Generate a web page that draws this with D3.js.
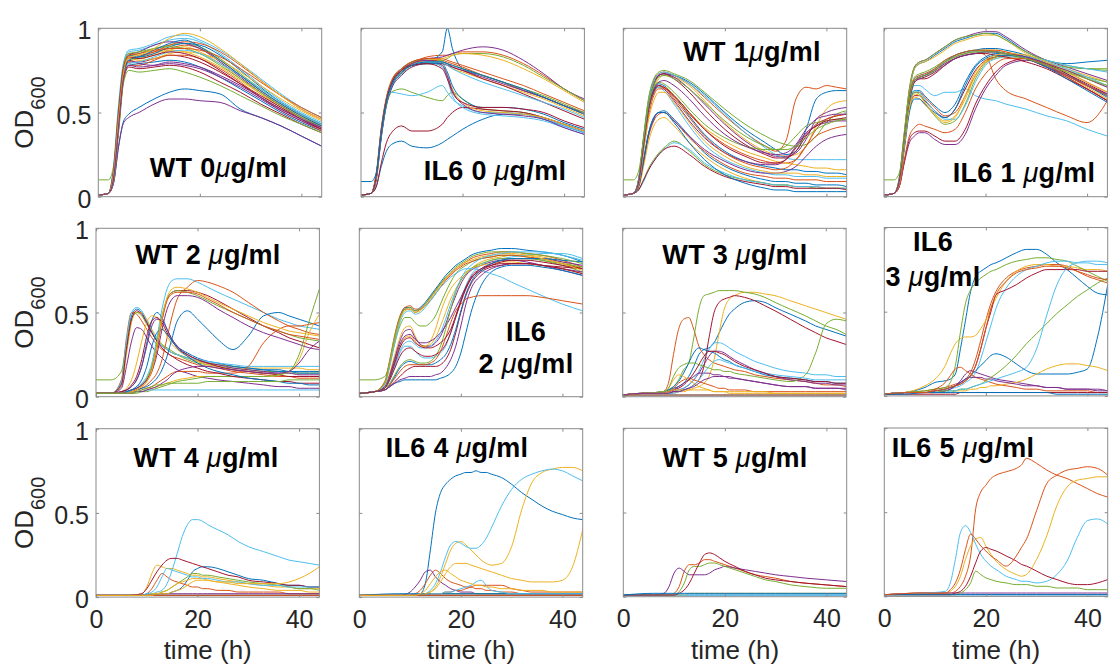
<!DOCTYPE html>
<html>
<head>
<meta charset="utf-8">
<script src="https://cdn.jsdelivr.net/npm/d3@7"></script>
<style>
  body { margin: 0; background: #fff; }
  svg text { font-family: "Liberation Sans", Arial, Helvetica, sans-serif; }
</style>
</head>
<body>
<svg id="chart" width="1109" height="669"></svg>
<script>
// ---- axes ----
const hourRange = [0, 44];
const odTicks = [0, 0.5, 1];
const hourTicks = [0, 20, 40];
const lineColors = ["#0072BD", "#D95319", "#EDB120", "#7E2F8E", "#77AC30", "#4DBEEE", "#A2142F"];

const panelTitles = [
  ["WT 0μg/ml"], ["IL6 0 μg/ml"], ["WT 1μg/ml"], ["IL6 1 μg/ml"],
  ["WT 2 μg/ml"], ["IL6", "2 μg/ml"], ["WT 3 μg/ml"], ["IL6", "3 μg/ml"],
  ["WT 4 μg/ml"], ["IL6 4 μg/ml"], ["WT 5 μg/ml"], ["IL6 5 μg/ml"]
];
const yLabelMain = "OD";
const yLabelSub = "600";
const xLabel = "time (h)";

// ---- WT, 0 ug/ml ----
const wt0Hours = [0,2,3,4,5,6,8,11,14,17,20,24,28,32,36,40,44];
const wt0OD = [
  [.01,.02,.08,.30,.45,.49,.53,.58,.62,.64,.63,.61,.52,.47,.42,.36,.30],
  [.01,.02,.15,.50,.78,.85,.84,.86,.88,.90,.88,.81,.72,.63,.55,.48,.42],
  [.01,.02,.12,.45,.74,.82,.82,.84,.87,.89,.86,.79,.70,.61,.53,.47,.41],
  [.01,.02,.08,.30,.44,.47,.50,.55,.58,.58,.57,.56,.51,.47,.42,.36,.30],
  [.10,.10,.18,.48,.75,.83,.85,.88,.90,.91,.89,.82,.73,.64,.56,.49,.43],
  [.01,.02,.18,.55,.80,.86,.87,.90,.93,.94,.92,.85,.76,.66,.57,.50,.44],
  [.01,.02,.10,.40,.70,.77,.76,.77,.78,.77,.74,.68,.62,.55,.49,.43,.38],
  [.01,.02,.14,.48,.72,.78,.79,.80,.81,.80,.77,.71,.64,.57,.50,.44,.39],
  [.01,.02,.16,.52,.76,.82,.83,.86,.90,.92,.91,.86,.78,.69,.60,.52,.46],
  [.01,.02,.11,.42,.71,.80,.82,.85,.87,.86,.83,.77,.69,.61,.54,.48,.43],
  [.01,.02,.13,.47,.75,.84,.86,.90,.92,.91,.88,.80,.71,.62,.54,.47,.41],
  [.01,.02,.09,.38,.68,.75,.74,.75,.76,.74,.71,.66,.60,.54,.48,.43,.38],
  [.01,.02,.17,.53,.79,.87,.88,.91,.95,.96,.93,.87,.79,.70,.61,.53,.47],
  [.01,.02,.12,.44,.73,.80,.80,.82,.84,.83,.80,.74,.67,.60,.53,.46,.40],
  [.01,.02,.15,.49,.77,.84,.83,.85,.89,.91,.90,.84,.75,.65,.56,.49,.43],
  [.01,.02,.10,.41,.70,.78,.78,.81,.84,.84,.82,.76,.68,.59,.51,.45,.39],
  [.01,.02,.14,.47,.75,.82,.81,.82,.85,.86,.85,.81,.74,.66,.58,.51,.45],
  [.01,.02,.13,.46,.74,.81,.79,.78,.79,.78,.76,.71,.65,.58,.51,.45,.40],
  [.01,.02,.16,.51,.78,.85,.86,.88,.89,.88,.85,.78,.70,.62,.54,.47,.42],
  [.01,.02,.11,.43,.72,.79,.80,.83,.86,.87,.85,.79,.72,.64,.56,.49,.43],
  [.01,.02,.15,.50,.77,.83,.82,.84,.86,.85,.82,.75,.67,.59,.52,.46,.40],
  [.01,.02,.12,.45,.73,.81,.83,.87,.91,.93,.89,.81,.72,.63,.55,.48,.42],
  [.01,.02,.14,.48,.76,.84,.85,.87,.88,.88,.87,.83,.76,.68,.60,.53,.47],
  [.01,.02,.13,.46,.74,.83,.84,.88,.94,.97,.95,.88,.79,.69,.60,.52,.46],
  [.01,.02,.11,.42,.71,.78,.77,.78,.80,.79,.77,.72,.66,.59,.52,.46,.41]
];

// ---- IL6, 0 ug/ml ----
const il6_0Hours = [0,2,3,4,5,6,8,10,13,16,17,18,20,24,28,32,36,40,44];
const il6_0OD = [
  [.01,.02,.06,.18,.27,.31,.33,.30,.29,.32,.34,.36,.40,.46,.49,.49,.46,.42,.38],
  [.01,.02,.13,.40,.58,.68,.75,.79,.83,.84,.84,.85,.86,.86,.84,.79,.72,.64,.57],
  [.01,.02,.11,.37,.55,.65,.73,.77,.79,.79,.78,.76,.74,.70,.66,.62,.58,.53,.48],
  [.01,.02,.12,.39,.57,.67,.75,.80,.82,.83,.84,.85,.87,.89,.87,.81,.73,.64,.58],
  [.01,.02,.10,.36,.54,.62,.64,.62,.59,.57,.60,.62,.58,.52,.51,.50,.47,.43,.39],
  [.01,.02,.12,.38,.56,.62,.61,.60,.62,.66,.62,.58,.54,.50,.50,.49,.46,.42,.38],
  [.01,.02,.06,.20,.32,.38,.42,.39,.39,.43,.47,.50,.53,.52,.51,.50,.47,.43,.39],
  [.01,.02,.12,.39,.58,.68,.76,.78,.80,.86,1.0,.88,.76,.72,.68,.63,.59,.54,.49],
  [.01,.02,.14,.41,.59,.69,.76,.80,.82,.81,.80,.79,.77,.72,.68,.63,.59,.54,.49],
  [.01,.02,.11,.37,.56,.66,.74,.78,.80,.78,.72,.64,.56,.51,.50,.49,.47,.43,.39],
  [.01,.02,.10,.35,.54,.64,.72,.77,.79,.79,.78,.77,.75,.71,.67,.63,.59,.54,.50],
  [.01,.02,.13,.40,.58,.68,.76,.80,.81,.81,.82,.84,.85,.85,.83,.78,.71,.64,.57],
  [.01,.02,.12,.39,.57,.67,.75,.79,.80,.77,.70,.60,.53,.49,.48,.47,.45,.41,.37],
  [.01,.02,.12,.38,.57,.67,.75,.79,.81,.80,.79,.77,.75,.70,.66,.61,.56,.51,.46],
  [.01,.02,.11,.36,.55,.65,.73,.78,.79,.79,.74,.66,.58,.53,.53,.52,.49,.44,.40],
  [.01,.02,.13,.40,.58,.68,.76,.80,.82,.82,.81,.80,.78,.74,.70,.66,.61,.56,.51],
  [.01,.02,.12,.38,.57,.67,.75,.79,.81,.82,.83,.84,.85,.84,.81,.76,.70,.63,.56],
  [.01,.02,.12,.39,.57,.67,.75,.79,.81,.78,.72,.63,.55,.50,.49,.48,.46,.41,.37],
  [.01,.02,.11,.37,.55,.66,.74,.78,.80,.80,.79,.78,.76,.72,.68,.64,.60,.55,.50],
  [.01,.02,.12,.38,.56,.66,.74,.78,.80,.80,.78,.76,.73,.68,.64,.60,.56,.52,.47],
  [.01,.02,.12,.38,.57,.67,.75,.78,.79,.76,.70,.62,.56,.53,.53,.52,.50,.45,.41],
  [.09,.09,.14,.38,.56,.66,.74,.78,.80,.80,.79,.78,.76,.72,.68,.64,.59,.54,.49]
];

// ---- WT, 1 ug/ml ----
const wt1Hours = [0,2,3,4,5,6,7,8,10,13,16,20,24,28,30,32,34,36,38,40,42,44];
const wt1OD = [
  [.01,.02,.09,.33,.56,.68,.72,.73,.72,.68,.61,.50,.40,.32,.28,.25,.27,.40,.58,.62,.63,.63],
  [.01,.02,.10,.35,.58,.69,.73,.74,.72,.67,.59,.48,.38,.30,.27,.33,.58,.65,.64,.66,.65,.64],
  [.01,.02,.08,.30,.52,.64,.70,.72,.71,.66,.57,.44,.34,.27,.25,.24,.25,.30,.42,.52,.56,.57],
  [.01,.02,.09,.33,.56,.67,.72,.73,.71,.64,.55,.43,.33,.26,.24,.24,.26,.34,.46,.50,.52,.53],
  [.01,.02,.10,.36,.59,.70,.74,.75,.73,.69,.62,.52,.43,.36,.33,.31,.30,.31,.36,.44,.49,.51],
  [.01,.02,.09,.34,.57,.68,.73,.74,.72,.67,.60,.49,.38,.29,.25,.23,.22,.22,.22,.22,.22,.22],
  [.01,.02,.08,.31,.54,.66,.72,.73,.70,.62,.52,.40,.31,.25,.23,.23,.27,.36,.43,.46,.48,.49],
  [.01,.02,.10,.34,.55,.64,.67,.66,.60,.48,.37,.27,.21,.18,.17,.16,.16,.15,.15,.14,.14,.13],
  [.01,.02,.09,.32,.53,.63,.66,.65,.59,.49,.40,.31,.25,.21,.20,.20,.22,.30,.40,.46,.48,.49],
  [.01,.02,.08,.30,.51,.61,.65,.65,.60,.50,.41,.33,.27,.23,.21,.20,.19,.18,.17,.17,.16,.16],
  [.01,.02,.09,.33,.54,.63,.66,.64,.57,.45,.35,.26,.21,.19,.19,.22,.30,.38,.42,.44,.45,.45],
  [.01,.02,.10,.35,.56,.65,.68,.67,.62,.52,.43,.35,.30,.28,.28,.30,.36,.42,.44,.45,.46,.46],
  [.01,.02,.09,.32,.52,.62,.65,.63,.55,.42,.31,.22,.17,.14,.13,.13,.12,.12,.12,.11,.11,.11],
  [.01,.02,.08,.31,.52,.62,.66,.65,.60,.50,.40,.30,.24,.20,.20,.22,.29,.37,.42,.45,.46,.47],
  [.01,.02,.06,.22,.38,.47,.50,.51,.46,.36,.26,.18,.13,.10,.09,.09,.08,.08,.07,.07,.07,.06],
  [.01,.02,.06,.20,.36,.45,.49,.50,.45,.35,.27,.19,.14,.12,.11,.11,.10,.10,.10,.09,.09,.09],
  [.01,.02,.05,.18,.33,.42,.46,.47,.42,.32,.24,.16,.11,.08,.07,.07,.06,.06,.06,.05,.05,.05],
  [.01,.02,.06,.21,.37,.46,.50,.50,.45,.36,.28,.21,.16,.14,.14,.15,.18,.24,.30,.34,.36,.37],
  [.01,.02,.04,.10,.17,.22,.26,.29,.33,.27,.19,.13,.10,.08,.07,.07,.06,.06,.05,.05,.05,.05],
  [.01,.02,.04,.09,.16,.21,.25,.28,.32,.28,.20,.14,.10,.08,.07,.07,.06,.06,.06,.05,.05,.05],
  [.01,.02,.04,.10,.16,.21,.25,.28,.30,.25,.18,.12,.09,.07,.06,.06,.05,.05,.05,.05,.05,.04],
  [.01,.02,.06,.22,.38,.47,.50,.50,.44,.32,.22,.13,.08,.05,.04,.04,.03,.03,.03,.03,.03,.03],
  [.01,.02,.07,.28,.48,.60,.64,.64,.58,.47,.36,.26,.20,.17,.16,.17,.22,.30,.36,.39,.41,.42],
  [.01,.02,.07,.27,.46,.57,.62,.62,.56,.44,.33,.24,.18,.15,.14,.14,.14,.13,.13,.12,.12,.12],
  [.01,.02,.08,.30,.52,.63,.68,.69,.66,.58,.48,.37,.30,.26,.25,.26,.31,.40,.46,.48,.49,.49],
  [.10,.10,.15,.34,.55,.66,.71,.72,.70,.64,.56,.45,.36,.30,.28,.28,.30,.35,.40,.43,.45,.46]
];

// ---- IL6, 1 ug/ml ----
const il6_1Hours = [0,2,3,4,5,6,7,8,10,12,14,16,18,20,22,24,28,32,36,40,44];
const il6_1OD = [
  [.01,.02,.10,.36,.62,.76,.79,.80,.84,.88,.92,.94,.96,.97,.97,.94,.86,.81,.79,.80,.81],
  [.01,.02,.09,.34,.58,.69,.71,.72,.76,.80,.83,.85,.86,.84,.70,.63,.58,.53,.48,.44,.57],
  [.01,.02,.09,.33,.57,.68,.70,.71,.74,.79,.83,.85,.86,.87,.87,.86,.83,.78,.72,.65,.58],
  [.01,.02,.11,.38,.64,.77,.80,.81,.85,.89,.93,.95,.97,.98,.98,.95,.87,.81,.77,.73,.69],
  [.01,.02,.10,.35,.60,.71,.73,.74,.77,.81,.84,.86,.87,.87,.86,.85,.82,.79,.77,.76,.76],
  [.01,.02,.09,.33,.56,.66,.66,.64,.60,.62,.62,.64,.60,.58,.57,.55,.52,.48,.45,.40,.36],
  [.01,.02,.08,.30,.52,.60,.60,.57,.51,.47,.52,.64,.75,.81,.83,.84,.82,.77,.71,.64,.57],
  [.01,.02,.10,.34,.58,.69,.71,.72,.75,.80,.84,.86,.87,.88,.88,.87,.84,.79,.73,.66,.59],
  [.01,.02,.08,.31,.54,.62,.62,.59,.53,.48,.50,.60,.72,.80,.83,.84,.83,.79,.74,.68,.62],
  [.01,.02,.10,.37,.63,.76,.79,.80,.83,.87,.91,.93,.95,.96,.96,.93,.85,.80,.76,.72,.68],
  [.01,.02,.06,.20,.32,.36,.38,.38,.34,.31,.31,.37,.52,.64,.72,.78,.81,.78,.72,.66,.60],
  [.01,.02,.08,.31,.54,.62,.61,.56,.48,.43,.45,.55,.70,.79,.83,.84,.83,.79,.75,.71,.68],
  [.01,.02,.10,.35,.59,.70,.72,.73,.76,.80,.83,.85,.86,.86,.86,.85,.83,.80,.76,.71,.66],
  [.01,.02,.06,.21,.34,.38,.39,.39,.36,.33,.33,.40,.55,.66,.74,.79,.82,.79,.73,.67,.61],
  [.01,.02,.09,.32,.55,.63,.63,.60,.54,.50,.55,.68,.78,.83,.85,.85,.83,.78,.72,.66,.60],
  [.01,.02,.10,.35,.60,.70,.72,.73,.76,.81,.84,.86,.87,.87,.87,.86,.82,.77,.71,.64,.57],
  [.01,.02,.08,.30,.52,.59,.58,.55,.49,.45,.48,.58,.72,.80,.82,.83,.82,.79,.75,.70,.65],
  [.01,.02,.09,.34,.58,.69,.71,.72,.75,.79,.82,.84,.85,.86,.86,.85,.82,.77,.72,.66,.61],
  [.01,.02,.11,.38,.64,.77,.80,.81,.85,.89,.93,.95,.96,.97,.96,.93,.86,.81,.78,.76,.75],
  [.01,.02,.09,.33,.56,.63,.62,.58,.51,.46,.46,.54,.68,.78,.82,.83,.83,.81,.78,.76,.74],
  [.01,.02,.09,.34,.57,.68,.70,.70,.73,.78,.82,.84,.85,.85,.84,.83,.80,.76,.70,.64,.57],
  [.01,.02,.07,.28,.50,.58,.58,.55,.50,.47,.52,.66,.77,.82,.84,.84,.82,.77,.70,.63,.56],
  [.01,.02,.06,.22,.36,.41,.43,.42,.40,.38,.40,.50,.64,.73,.79,.82,.82,.78,.72,.66,.60],
  [.01,.02,.08,.30,.53,.61,.60,.56,.49,.44,.47,.60,.74,.81,.84,.85,.84,.80,.74,.68,.62],
  [.01,.02,.09,.33,.57,.68,.70,.71,.74,.78,.82,.84,.85,.86,.86,.85,.83,.79,.75,.70,.65],
  [.10,.10,.14,.34,.58,.69,.71,.72,.75,.80,.83,.85,.86,.86,.86,.85,.82,.78,.74,.70,.66]
];

// ---- WT, 2 ug/ml ----
const wt2Hours = [0,3,5,6,7,8,9,10,11,12,13,14,15,16,18,20,22,24,27,30,33,36,38,40,42,44];
const wt2OD = [
  [.02,.02,.08,.30,.48,.52,.50,.44,.38,.33,.30,.28,.26,.25,.23,.21,.20,.19,.18,.17,.16,.16,.15,.15,.15,.15],
  [.02,.02,.10,.35,.50,.49,.45,.40,.35,.31,.28,.26,.24,.23,.21,.19,.18,.17,.15,.14,.13,.12,.12,.11,.11,.11],
  [.02,.02,.06,.25,.44,.50,.50,.46,.40,.35,.31,.28,.26,.25,.23,.21,.20,.19,.18,.17,.17,.17,.17,.17,.16,.16],
  [.02,.02,.05,.18,.33,.41,.40,.35,.30,.26,.23,.20,.18,.16,.14,.12,.11,.10,.09,.08,.07,.06,.06,.05,.05,.05],
  [.10,.10,.15,.32,.46,.50,.48,.43,.38,.34,.31,.29,.27,.25,.22,.20,.19,.18,.17,.16,.15,.15,.14,.14,.14,.14],
  [.02,.02,.02,.03,.04,.06,.08,.12,.20,.35,.52,.64,.69,.70,.70,.68,.65,.62,.58,.54,.50,.46,.44,.42,.41,.40],
  [.02,.02,.02,.03,.04,.05,.07,.10,.17,.30,.46,.58,.62,.63,.63,.62,.60,.57,.52,.47,.42,.38,.35,.33,.31,.29],
  [.02,.02,.03,.04,.06,.10,.18,.32,.45,.50,.47,.40,.34,.30,.26,.23,.21,.20,.18,.17,.16,.15,.15,.14,.14,.14],
  [.02,.02,.02,.03,.03,.04,.05,.07,.10,.14,.22,.35,.48,.58,.65,.69,.68,.66,.62,.56,.50,.45,.42,.40,.38,.37],
  [.02,.02,.03,.05,.10,.20,.33,.44,.48,.47,.42,.36,.31,.28,.24,.21,.19,.18,.16,.15,.14,.13,.12,.12,.12,.12],
  [.02,.02,.03,.04,.06,.10,.18,.30,.42,.46,.45,.40,.34,.30,.25,.22,.20,.19,.17,.16,.15,.14,.14,.13,.13,.13],
  [.02,.02,.02,.03,.04,.05,.07,.11,.18,.32,.48,.58,.62,.63,.62,.60,.57,.54,.50,.46,.42,.39,.37,.35,.34,.33],
  [.02,.02,.09,.33,.50,.53,.51,.45,.39,.34,.30,.28,.26,.25,.23,.22,.21,.20,.19,.18,.18,.18,.18,.18,.18,.18],
  [.02,.02,.03,.04,.07,.12,.22,.36,.45,.47,.44,.38,.33,.29,.25,.22,.20,.18,.16,.15,.14,.13,.12,.12,.12,.12],
  [.02,.02,.02,.02,.03,.04,.05,.06,.08,.11,.16,.24,.35,.45,.51,.46,.40,.34,.28,.36,.48,.50,.48,.46,.44,.42],
  [.02,.02,.02,.02,.03,.03,.04,.05,.06,.08,.10,.12,.14,.15,.15,.15,.14,.14,.14,.18,.32,.40,.42,.42,.43,.44],
  [.02,.02,.02,.02,.02,.03,.03,.04,.05,.06,.07,.08,.09,.10,.11,.12,.12,.12,.12,.12,.12,.13,.15,.22,.38,.49],
  [.02,.02,.02,.03,.04,.05,.07,.10,.15,.25,.40,.52,.58,.60,.60,.59,.56,.52,.47,.42,.38,.35,.33,.31,.29,.28],
  [.02,.02,.02,.02,.02,.02,.03,.03,.04,.05,.06,.07,.08,.09,.10,.11,.12,.12,.12,.12,.12,.13,.15,.25,.45,.64],
  [.02,.02,.02,.03,.03,.03,.03,.04,.04,.04,.04,.04,.04,.04,.04,.04,.04,.04,.04,.04,.04,.04,.04,.04,.04,.04],
  [.02,.02,.07,.28,.46,.51,.49,.44,.38,.33,.29,.26,.24,.22,.19,.17,.15,.14,.12,.11,.10,.09,.09,.08,.08,.08],
  [.02,.02,.02,.03,.04,.06,.10,.18,.30,.38,.40,.37,.33,.29,.24,.20,.17,.15,.13,.11,.10,.09,.08,.08,.07,.07],
  [.02,.02,.02,.02,.03,.04,.06,.09,.15,.28,.45,.57,.61,.62,.62,.61,.58,.55,.50,.46,.42,.39,.37,.36,.35,.34],
  [.02,.02,.02,.02,.03,.04,.06,.09,.16,.30,.47,.59,.64,.65,.64,.62,.59,.56,.52,.48,.44,.41,.39,.38,.37,.36],
  [.02,.02,.02,.02,.02,.03,.03,.04,.05,.06,.08,.10,.13,.15,.17,.18,.18,.17,.16,.15,.14,.14,.15,.20,.28,.33],
  [.02,.02,.02,.02,.02,.03,.04,.05,.06,.07,.07,.08,.08,.08,.08,.08,.09,.09,.09,.09,.09,.09,.10,.10,.10,.10]
];

// ---- IL6, 2 ug/ml ----
const il6_2Hours = [0,3,5,6,7,8,9,10,11,12,13,14,15,16,17,18,19,20,21,22,24,26,28,30,33,36,40,44];
const il6_2OD = [
  [.02,.03,.08,.20,.35,.47,.53,.53,.51,.53,.56,.60,.64,.68,.72,.75,.78,.80,.82,.84,.86,.87,.88,.88,.87,.86,.84,.80],
  [.02,.03,.08,.19,.34,.46,.52,.52,.50,.52,.55,.59,.63,.67,.70,.73,.76,.78,.80,.82,.84,.85,.86,.86,.85,.84,.81,.77],
  [.02,.03,.06,.14,.25,.35,.41,.42,.36,.31,.30,.31,.35,.42,.50,.58,.64,.69,.73,.76,.80,.82,.83,.84,.84,.83,.80,.76],
  [.02,.03,.06,.13,.23,.33,.39,.40,.35,.31,.30,.30,.32,.36,.43,.52,.60,.67,.72,.75,.78,.80,.81,.81,.80,.78,.75,.72],
  [.10,.10,.12,.20,.32,.42,.47,.47,.44,.42,.42,.44,.48,.55,.62,.68,.73,.76,.78,.80,.82,.83,.84,.84,.83,.81,.78,.74],
  [.02,.03,.05,.10,.18,.26,.30,.30,.27,.24,.23,.23,.24,.26,.30,.38,.48,.58,.66,.72,.78,.81,.82,.83,.84,.85,.85,.82],
  [.02,.03,.04,.06,.09,.12,.15,.17,.18,.18,.18,.18,.18,.19,.22,.28,.38,.50,.60,.67,.74,.77,.78,.79,.79,.78,.77,.76],
  [.02,.03,.04,.06,.08,.09,.10,.10,.10,.10,.10,.10,.10,.11,.12,.14,.18,.26,.38,.50,.66,.74,.77,.78,.78,.77,.75,.72],
  [.02,.03,.09,.22,.37,.48,.53,.54,.52,.52,.54,.57,.61,.65,.69,.72,.75,.77,.79,.80,.82,.83,.84,.84,.83,.82,.79,.76],
  [.02,.03,.05,.12,.21,.30,.35,.36,.33,.30,.30,.33,.40,.50,.58,.64,.68,.71,.74,.76,.78,.79,.80,.80,.79,.78,.76,.73],
  [.02,.03,.05,.12,.22,.31,.36,.37,.34,.32,.32,.33,.35,.38,.42,.47,.53,.59,.65,.70,.76,.79,.81,.82,.82,.82,.80,.78],
  [.02,.03,.04,.08,.13,.18,.21,.22,.21,.20,.20,.21,.24,.30,.40,.52,.62,.69,.73,.76,.79,.81,.82,.82,.82,.81,.79,.77],
  [.02,.03,.07,.18,.32,.44,.50,.51,.49,.50,.53,.57,.61,.65,.68,.71,.73,.75,.76,.76,.75,.73,.71,.68,.64,.60,.55,.51],
  [.02,.03,.05,.10,.17,.24,.28,.29,.27,.25,.24,.24,.25,.27,.31,.38,.47,.56,.64,.70,.75,.78,.80,.81,.81,.80,.78,.76],
  [.02,.03,.04,.07,.12,.17,.20,.21,.20,.19,.19,.19,.20,.22,.25,.31,.40,.51,.61,.68,.75,.79,.81,.82,.82,.82,.81,.80],
  [.02,.03,.04,.07,.11,.15,.18,.19,.19,.19,.19,.20,.22,.27,.35,.44,.51,.55,.58,.59,.60,.60,.60,.60,.60,.59,.57,.55],
  [.02,.03,.08,.20,.35,.46,.51,.52,.50,.51,.54,.58,.62,.66,.70,.73,.76,.78,.80,.81,.83,.84,.85,.85,.84,.82,.79,.75],
  [.02,.03,.04,.06,.08,.10,.11,.12,.12,.12,.12,.12,.13,.14,.17,.22,.30,.42,.55,.64,.72,.76,.78,.79,.79,.78,.76,.74],
  [.02,.03,.08,.21,.36,.47,.52,.53,.51,.52,.55,.59,.63,.67,.71,.74,.77,.79,.81,.83,.85,.86,.86,.86,.85,.84,.82,.79],
  [.02,.03,.05,.11,.19,.27,.32,.33,.31,.29,.29,.30,.33,.38,.46,.55,.63,.70,.75,.78,.82,.84,.85,.86,.86,.86,.84,.81],
  [.02,.03,.05,.11,.20,.29,.34,.35,.32,.30,.29,.29,.30,.32,.35,.40,.48,.57,.65,.71,.76,.78,.79,.79,.79,.78,.76,.73]
];

// ---- WT, 3 ug/ml ----
const wt3Hours = [0,4,8,9,10,11,12,13,14,15,16,17,18,19,20,21,22,24,26,28,30,33,36,38,40,42,44];
const wt3OD = [
  [.01,.02,.03,.04,.05,.06,.08,.12,.18,.25,.28,.29,.32,.38,.44,.49,.52,.56,.57,.56,.53,.49,.45,.42,.40,.38,.36],
  [.01,.02,.03,.08,.25,.40,.46,.47,.40,.30,.25,.22,.20,.19,.18,.17,.16,.15,.13,.12,.11,.10,.09,.08,.07,.07,.06],
  [.01,.02,.02,.02,.02,.03,.03,.04,.05,.06,.08,.12,.22,.38,.52,.58,.60,.62,.62,.61,.60,.57,.54,.52,.50,.48,.46],
  [.01,.02,.02,.02,.03,.04,.05,.07,.10,.14,.19,.24,.27,.27,.26,.24,.22,.19,.16,.14,.12,.10,.09,.08,.08,.07,.07],
  [.01,.02,.03,.04,.06,.10,.16,.20,.35,.52,.60,.61,.62,.63,.63,.63,.63,.62,.61,.59,.56,.52,.48,.45,.42,.40,.37],
  [.01,.02,.02,.02,.03,.04,.05,.07,.10,.15,.22,.28,.32,.32,.31,.29,.27,.24,.21,.19,.17,.15,.14,.13,.13,.12,.12],
  [.01,.02,.02,.02,.03,.03,.04,.05,.07,.10,.18,.35,.50,.56,.58,.59,.60,.59,.57,.54,.51,.46,.41,.38,.35,.33,.31],
  [.01,.02,.03,.04,.06,.09,.14,.20,.26,.29,.28,.27,.26,.24,.22,.21,.19,.17,.15,.13,.12,.11,.10,.09,.09,.08,.08],
  [.01,.02,.02,.03,.05,.08,.10,.11,.10,.09,.08,.07,.06,.05,.05,.04,.04,.04,.03,.03,.03,.03,.03,.03,.03,.03,.03],
  [.01,.02,.03,.05,.10,.13,.12,.10,.08,.06,.05,.04,.03,.03,.03,.02,.02,.02,.02,.02,.02,.02,.02,.02,.02,.02,.02],
  [.01,.02,.02,.03,.04,.06,.08,.10,.12,.14,.14,.14,.13,.13,.12,.12,.11,.10,.09,.08,.07,.06,.06,.05,.05,.05,.04],
  [.01,.02,.03,.05,.12,.17,.19,.20,.20,.19,.18,.17,.16,.16,.15,.15,.14,.13,.12,.11,.10,.09,.13,.26,.43,.46,.45],
  [.01,.02,.02,.02,.02,.03,.04,.05,.07,.10,.14,.18,.21,.22,.21,.20,.19,.17,.15,.14,.13,.12,.11,.10,.10,.10,.10],
  [.01,.02,.02,.03,.04,.05,.07,.10,.14,.19,.24,.27,.27,.26,.25,.23,.21,.18,.16,.14,.12,.11,.10,.09,.09,.08,.08],
  [.01,.01,.01,.01,.01,.01,.01,.01,.01,.01,.01,.01,.01,.01,.01,.01,.01,.01,.01,.01,.01,.01,.01,.01,.01,.01,.01],
  [.01,.01,.01,.01,.01,.01,.01,.01,.01,.01,.01,.01,.01,.01,.01,.01,.01,.01,.01,.01,.01,.01,.01,.01,.01,.01,.01],
  [.01,.02,.02,.03,.04,.04,.04,.04,.04,.04,.04,.04,.03,.03,.03,.03,.03,.03,.03,.03,.02,.02,.02,.02,.02,.02,.02],
  [.01,.02,.02,.02,.03,.03,.04,.05,.06,.08,.10,.11,.12,.12,.12,.11,.11,.10,.09,.08,.07,.06,.06,.05,.05,.05,.05]
];

// ---- IL6, 3 ug/ml ----
const il6_3Hours = [0,4,8,10,12,13,14,15,16,17,18,19,20,21,22,24,26,28,30,32,34,36,38,40,42,44];
const il6_3OD = [
  [.01,.02,.05,.08,.09,.10,.13,.28,.45,.62,.71,.74,.76,.78,.79,.82,.85,.87,.87,.84,.79,.75,.70,.65,.61,.60],
  [.01,.02,.03,.04,.05,.06,.07,.08,.10,.14,.22,.33,.45,.55,.62,.70,.74,.76,.77,.78,.78,.77,.74,.71,.69,.67],
  [.01,.02,.06,.10,.18,.25,.31,.34,.35,.35,.36,.40,.45,.52,.58,.68,.74,.77,.78,.78,.77,.77,.76,.75,.75,.74],
  [.01,.02,.02,.02,.03,.04,.06,.09,.13,.15,.14,.13,.12,.11,.10,.09,.08,.07,.06,.05,.05,.04,.04,.04,.03,.03],
  [.01,.02,.03,.04,.05,.08,.18,.38,.55,.63,.67,.70,.72,.74,.75,.78,.80,.81,.82,.82,.81,.80,.77,.74,.71,.68],
  [.01,.02,.02,.03,.03,.04,.05,.06,.08,.10,.14,.22,.32,.42,.52,.64,.71,.75,.77,.79,.80,.80,.79,.79,.78,.78],
  [.01,.02,.02,.03,.04,.05,.06,.07,.09,.12,.18,.28,.40,.50,.60,.63,.66,.70,.73,.75,.75,.75,.75,.74,.74,.74],
  [.01,.02,.02,.03,.04,.05,.06,.08,.10,.12,.15,.18,.21,.24,.25,.23,.19,.15,.13,.13,.13,.13,.14,.16,.35,.66],
  [.01,.02,.02,.04,.08,.12,.16,.17,.15,.13,.11,.10,.09,.08,.07,.06,.05,.04,.04,.03,.03,.03,.03,.03,.02,.02],
  [.01,.02,.02,.02,.02,.02,.03,.03,.03,.04,.04,.05,.05,.06,.06,.07,.08,.10,.13,.16,.18,.19,.19,.18,.17,.15],
  [.01,.02,.02,.02,.03,.04,.06,.08,.10,.11,.11,.11,.10,.10,.09,.08,.07,.06,.06,.05,.05,.04,.04,.04,.04,.03],
  [.01,.02,.02,.02,.03,.03,.03,.04,.04,.05,.06,.07,.09,.11,.13,.18,.24,.31,.37,.43,.49,.54,.59,.63,.67,.70],
  [.01,.02,.02,.02,.02,.03,.03,.04,.04,.05,.06,.07,.08,.09,.10,.12,.14,.17,.28,.48,.66,.76,.79,.80,.80,.79],
  [.01,.01,.01,.01,.01,.01,.01,.02,.02,.02,.02,.02,.02,.02,.02,.02,.02,.02,.02,.02,.02,.02,.02,.02,.02,.02],
  [.01,.01,.02,.02,.02,.02,.02,.02,.02,.02,.02,.02,.02,.02,.02,.02,.02,.02,.02,.02,.01,.01,.01,.01,.01,.01],
  [.01,.02,.02,.03,.04,.05,.06,.07,.09,.12,.18,.28,.40,.52,.60,.68,.73,.75,.76,.77,.77,.76,.74,.72,.70,.69]
];

// ---- WT, 4 ug/ml ----
const wt4Hours = [0,6,9,10,11,12,13,14,15,16,17,18,19,20,21,22,24,26,28,30,33,36,38,40,42,44];
const wt4OD = [
  [.01,.01,.01,.01,.01,.02,.02,.02,.03,.04,.06,.10,.15,.17,.18,.18,.17,.15,.13,.11,.10,.08,.07,.07,.06,.06],
  [.01,.01,.01,.02,.05,.10,.14,.12,.10,.09,.08,.07,.06,.06,.05,.05,.04,.04,.03,.03,.03,.03,.02,.02,.02,.02],
  [.01,.01,.02,.06,.14,.19,.18,.17,.17,.16,.15,.14,.13,.13,.12,.12,.11,.10,.09,.08,.07,.06,.06,.05,.05,.05],
  [.01,.01,.01,.01,.01,.02,.02,.02,.02,.02,.02,.02,.02,.02,.02,.02,.02,.02,.02,.02,.02,.02,.02,.02,.02,.02],
  [.01,.01,.01,.01,.02,.02,.03,.04,.06,.08,.10,.12,.14,.14,.13,.13,.12,.11,.10,.09,.08,.07,.06,.05,.05,.04],
  [.01,.01,.01,.02,.02,.03,.04,.08,.16,.26,.36,.43,.46,.46,.45,.43,.40,.37,.33,.30,.27,.24,.22,.21,.20,.19],
  [.01,.01,.02,.05,.10,.15,.19,.22,.23,.23,.22,.21,.20,.19,.18,.17,.15,.13,.12,.10,.09,.08,.07,.07,.06,.06],
  [.01,.01,.01,.01,.01,.01,.01,.01,.01,.01,.01,.01,.01,.01,.01,.01,.01,.01,.01,.01,.01,.01,.01,.01,.01,.01],
  [.01,.01,.01,.01,.01,.01,.01,.01,.01,.01,.01,.01,.01,.01,.01,.01,.01,.01,.01,.01,.01,.01,.01,.01,.01,.01],
  [.01,.01,.01,.01,.02,.02,.03,.04,.06,.08,.09,.10,.11,.11,.11,.10,.09,.08,.07,.06,.05,.04,.04,.04,.03,.03],
  [.01,.01,.01,.01,.01,.01,.01,.01,.01,.01,.01,.01,.01,.01,.01,.01,.01,.01,.01,.01,.01,.01,.01,.01,.01,.01],
  [.01,.01,.01,.01,.01,.01,.01,.01,.01,.01,.01,.01,.01,.01,.01,.01,.01,.01,.01,.01,.01,.01,.01,.01,.01,.01],
  [.01,.01,.01,.02,.03,.06,.12,.17,.16,.15,.14,.13,.12,.12,.11,.11,.10,.09,.09,.08,.07,.07,.06,.06,.06,.06],
  [.01,.01,.01,.01,.01,.01,.01,.01,.01,.01,.01,.01,.01,.01,.01,.01,.01,.01,.01,.01,.01,.01,.01,.01,.01,.01],
  [.01,.01,.01,.01,.01,.01,.01,.01,.01,.01,.01,.01,.01,.01,.01,.01,.01,.01,.01,.01,.01,.01,.01,.01,.01,.01],
  [.01,.01,.01,.01,.01,.01,.01,.01,.01,.01,.01,.01,.01,.01,.01,.01,.01,.01,.01,.01,.01,.01,.01,.01,.01,.01],
  [.01,.01,.01,.01,.01,.02,.02,.02,.03,.04,.05,.07,.09,.10,.10,.10,.09,.09,.08,.08,.08,.08,.09,.11,.14,.18]
];

// ---- IL6, 4 ug/ml ----
const il6_4Hours = [0,8,10,11,12,13,14,15,16,17,18,19,20,21,22,23,24,25,26,28,30,32,34,36,38,40,42,44];
const il6_4OD = [
  [.01,.01,.01,.01,.02,.08,.28,.50,.62,.67,.70,.72,.73,.74,.74,.75,.74,.74,.73,.71,.67,.62,.58,.54,.51,.49,.47,.46],
  [.01,.01,.01,.02,.04,.08,.13,.16,.14,.11,.09,.08,.07,.06,.06,.05,.05,.04,.04,.03,.03,.02,.02,.02,.02,.02,.02,.02],
  [.01,.01,.01,.01,.01,.02,.03,.06,.12,.20,.28,.32,.33,.31,.28,.25,.22,.20,.19,.20,.30,.52,.68,.74,.76,.77,.77,.75],
  [.01,.01,.03,.06,.10,.15,.16,.12,.09,.07,.05,.04,.03,.03,.03,.02,.02,.02,.02,.02,.02,.02,.02,.02,.02,.02,.02,.02],
  [.01,.01,.01,.01,.01,.01,.02,.02,.02,.02,.02,.02,.02,.02,.02,.02,.02,.02,.02,.02,.02,.02,.02,.02,.02,.02,.02,.02],
  [.01,.01,.01,.01,.01,.02,.04,.08,.15,.24,.31,.33,.32,.30,.29,.29,.31,.35,.41,.54,.64,.70,.73,.75,.76,.75,.72,.69],
  [.01,.01,.01,.01,.01,.01,.01,.01,.01,.01,.01,.01,.01,.01,.01,.01,.01,.01,.01,.01,.01,.01,.01,.01,.01,.01,.01,.01],
  [.01,.02,.02,.02,.02,.02,.02,.02,.02,.02,.02,.02,.02,.02,.02,.02,.02,.02,.02,.02,.02,.02,.02,.02,.02,.02,.02,.02],
  [.01,.01,.01,.01,.01,.01,.02,.02,.02,.03,.03,.04,.04,.05,.06,.07,.07,.07,.07,.07,.05,.04,.03,.03,.03,.03,.03,.03],
  [.01,.01,.01,.01,.01,.02,.03,.05,.09,.14,.18,.20,.20,.20,.19,.18,.17,.16,.15,.13,.11,.10,.09,.09,.09,.10,.18,.40],
  [.01,.01,.01,.01,.01,.01,.01,.01,.01,.01,.01,.01,.01,.01,.01,.01,.01,.01,.01,.01,.01,.01,.01,.01,.01,.01,.01,.01],
  [.01,.01,.01,.01,.01,.01,.01,.01,.01,.01,.01,.01,.01,.01,.01,.01,.01,.01,.01,.01,.01,.01,.01,.01,.01,.01,.01,.01],
  [.01,.01,.01,.01,.01,.01,.02,.02,.02,.03,.03,.04,.05,.06,.07,.09,.10,.07,.04,.03,.02,.02,.02,.02,.02,.02,.02,.02],
  [.01,.01,.01,.01,.01,.01,.01,.01,.01,.01,.01,.01,.01,.01,.01,.01,.01,.01,.01,.01,.01,.01,.01,.01,.01,.01,.01,.01],
  [.01,.01,.01,.01,.01,.01,.01,.01,.01,.01,.01,.01,.01,.01,.01,.01,.01,.01,.01,.01,.01,.01,.01,.01,.01,.01,.01,.01],
  [.01,.01,.01,.01,.01,.01,.01,.01,.01,.01,.01,.01,.01,.01,.01,.01,.01,.01,.01,.01,.01,.01,.01,.01,.01,.01,.01,.01],
  [.01,.01,.01,.01,.02,.04,.08,.12,.15,.16,.14,.12,.10,.09,.08,.07,.07,.06,.06,.05,.05,.04,.04,.04,.03,.03,.03,.03]
];

// ---- WT, 5 ug/ml ----
const wt5Hours = [0,6,8,9,10,11,12,13,14,15,16,17,18,19,20,22,24,26,28,30,33,36,40,44];
const wt5OD = [
  [.01,.01,.01,.01,.01,.01,.01,.01,.01,.01,.01,.01,.01,.01,.01,.01,.01,.01,.01,.01,.01,.01,.01,.01],
  [.01,.01,.01,.01,.02,.06,.15,.19,.19,.20,.22,.22,.21,.20,.19,.17,.15,.13,.12,.11,.09,.08,.07,.06],
  [.01,.01,.01,.01,.01,.01,.01,.02,.02,.02,.02,.02,.02,.02,.02,.02,.02,.02,.02,.02,.02,.02,.02,.02],
  [.01,.01,.02,.06,.14,.17,.15,.13,.13,.13,.13,.14,.16,.17,.18,.17,.16,.15,.14,.13,.12,.11,.10,.09],
  [.01,.01,.01,.01,.01,.03,.08,.16,.18,.18,.19,.20,.20,.19,.18,.16,.14,.12,.10,.09,.07,.06,.05,.05],
  [.01,.01,.01,.01,.01,.01,.01,.01,.01,.01,.01,.01,.01,.01,.01,.01,.01,.01,.01,.01,.01,.01,.01,.01],
  [.01,.01,.01,.01,.01,.02,.04,.08,.14,.20,.25,.26,.25,.23,.21,.18,.15,.13,.11,.10,.09,.08,.07,.06],
  [.01,.02,.02,.02,.02,.02,.02,.02,.02,.02,.02,.02,.02,.02,.02,.02,.02,.02,.02,.02,.02,.02,.02,.02]
];

// ---- IL6, 5 ug/ml ----
const il6_5Hours = [0,8,12,13,14,15,16,17,18,19,20,21,22,24,26,27,28,30,32,34,36,38,40,42,44];
const il6_5OD = [
  [.01,.01,.01,.01,.01,.01,.01,.01,.01,.01,.01,.01,.01,.01,.01,.01,.01,.01,.01,.01,.01,.01,.01,.01,.01],
  [.01,.02,.02,.02,.03,.06,.12,.24,.52,.62,.66,.70,.72,.74,.76,.78,.82,.79,.75,.72,.70,.67,.64,.61,.59],
  [.01,.02,.02,.03,.06,.12,.22,.30,.34,.35,.30,.25,.21,.16,.13,.12,.13,.22,.36,.54,.65,.69,.70,.71,.71],
  [.01,.02,.02,.02,.02,.02,.02,.02,.02,.02,.02,.02,.02,.02,.02,.02,.02,.02,.02,.02,.02,.02,.02,.02,.02],
  [.01,.01,.01,.01,.01,.02,.04,.08,.15,.13,.11,.10,.09,.08,.07,.07,.07,.06,.06,.05,.05,.05,.04,.04,.04],
  [.01,.02,.03,.08,.22,.38,.42,.38,.31,.25,.21,.18,.16,.12,.10,.09,.09,.08,.09,.13,.21,.35,.45,.46,.43],
  [.01,.01,.01,.01,.02,.03,.06,.12,.20,.27,.29,.28,.27,.24,.21,.19,.18,.15,.12,.10,.08,.07,.07,.08,.10],
  [.01,.01,.01,.01,.01,.01,.01,.01,.01,.01,.01,.01,.01,.01,.01,.01,.01,.01,.01,.01,.01,.01,.01,.01,.01],
  [.01,.02,.02,.04,.08,.16,.28,.37,.34,.30,.27,.24,.22,.18,.24,.29,.34,.51,.67,.72,.75,.76,.77,.76,.72]
];

const panelSeries = [
  [wt0Hours, wt0OD], [il6_0Hours, il6_0OD], [wt1Hours, wt1OD], [il6_1Hours, il6_1OD],
  [wt2Hours, wt2OD], [il6_2Hours, il6_2OD], [wt3Hours, wt3OD], [il6_3Hours, il6_3OD],
  [wt4Hours, wt4OD], [il6_4Hours, il6_4OD], [wt5Hours, wt5OD], [il6_5Hours, il6_5OD]
];

// ---- layout ----
const frameW = 223.4, frameH = 168.4;
const frames = [
  [98.3, 28.3], [361, 28.3], [623.3, 28.3], [884, 28.3],
  [96, 228.3], [359.3, 228.3], [622.7, 228.3], [884.3, 227.5],
  [96, 428.7], [359.3, 428.7], [623.3, 428.3], [884.3, 428]
];
// title anchor: centre x, then one baseline per line
const titleSpots = [
  [218.5, 177], [495, 180], [752, 61], [1024, 182],
  [208, 264], [526, 341, 373], [735, 264], [933, 251, 286],
  [206, 467], [457, 457], [735, 467], [963, 457]
];

const svg = d3.select("#chart");
const x = d3.scaleLinear().domain(hourRange).range([0, frameW]);
const y = d3.scaleLinear().domain([0, 1]).range([frameH, 0]);
const trace = d3.line().x(d => x(d[0])).y(d => y(d[1])).curve(d3.curveMonotoneX);
const ink = "#262626";

panelSeries.forEach(([hours, rows], p) => {
  const [fx, fy] = frames[p];
  const col = p % 4, row = Math.floor(p / 4);
  const g = svg.append("g").attr("transform", `translate(${fx},${fy})`);

  g.append("clipPath").attr("id", `clip${p}`)
    .append("rect").attr("width", frameW).attr("height", frameH);

  g.append("g").attr("clip-path", `url(#clip${p})`)
    .selectAll("path").data(rows).join("path")
    .attr("d", vals => trace(hours.map((h, k) => [h, vals[k]])))
    .attr("fill", "none")
    .attr("stroke", (d, i) => lineColors[i % lineColors.length])
    .attr("stroke-width", 1)
    .attr("stroke-linejoin", "round");

  const styleAxis = sel => {
    sel.select(".domain").remove();
    sel.selectAll(".tick line").attr("stroke", "#8a8a8a");
    sel.selectAll("text").attr("fill", ink).attr("font-size", 25)
      .attr("font-family", '"Liberation Sans", Arial, sans-serif');
  };

  g.append("g").call(d3.axisLeft(y).tickValues(odTicks).tickSize(-3).tickPadding(7)
      .tickFormat(col === 0 ? d => String(d) : () => ""))
    .call(styleAxis)
    .call(s => s.selectAll("text").attr("dy", "0.42em"));
  g.append("g").attr("transform", `translate(${frameW},0)`)
    .call(d3.axisRight(y).tickValues(odTicks).tickSize(-3).tickFormat(() => ""))
    .call(styleAxis);
  g.append("g").attr("transform", `translate(0,${frameH})`)
    .call(d3.axisBottom(x).tickValues(hourTicks).tickSize(-3).tickPadding(13)
      .tickFormat(row === 2 ? d => String(d) : () => ""))
    .call(styleAxis);
  g.append("g")
    .call(d3.axisTop(x).tickValues(hourTicks).tickSize(-3).tickFormat(() => ""))
    .call(styleAxis);

  g.append("rect").attr("width", frameW).attr("height", frameH)
    .attr("fill", "none").attr("stroke", "#8a8a8a").attr("stroke-width", 1);

  // panel title: "μ" set in italic like the TeX \mu
  const spot = titleSpots[p];
  panelTitles[p].forEach((line, li) => {
    const t = svg.append("text")
      .attr("x", spot[0]).attr("y", spot[1 + li])
      .attr("text-anchor", "middle")
      .attr("font-size", 27).attr("font-weight", "bold")
      .attr("letter-spacing", 0.3).attr("fill", "#000");
    line.split(/(μ)/).filter(s => s.length).forEach(part => {
      const ts = t.append("tspan").text(part);
      if (part === "μ") ts.attr("font-style", "italic").attr("font-weight", "normal");
    });
  });

  if (col === 0) {
    const lab = svg.append("text")
      .attr("transform", `translate(33,${fy + frameH / 2}) rotate(-90)`)
      .attr("text-anchor", "middle").attr("fill", ink).attr("font-size", 26);
    lab.append("tspan").text(yLabelMain);
    lab.append("tspan").attr("dy", 12).attr("font-size", 20).text(yLabelSub);
  }
  if (row === 2) {
    svg.append("text")
      .attr("x", fx + frameW / 2).attr("y", 659)
      .attr("text-anchor", "middle").attr("fill", ink).attr("font-size", 26)
      .text(xLabel);
  }
});
</script>
</body>
</html>
